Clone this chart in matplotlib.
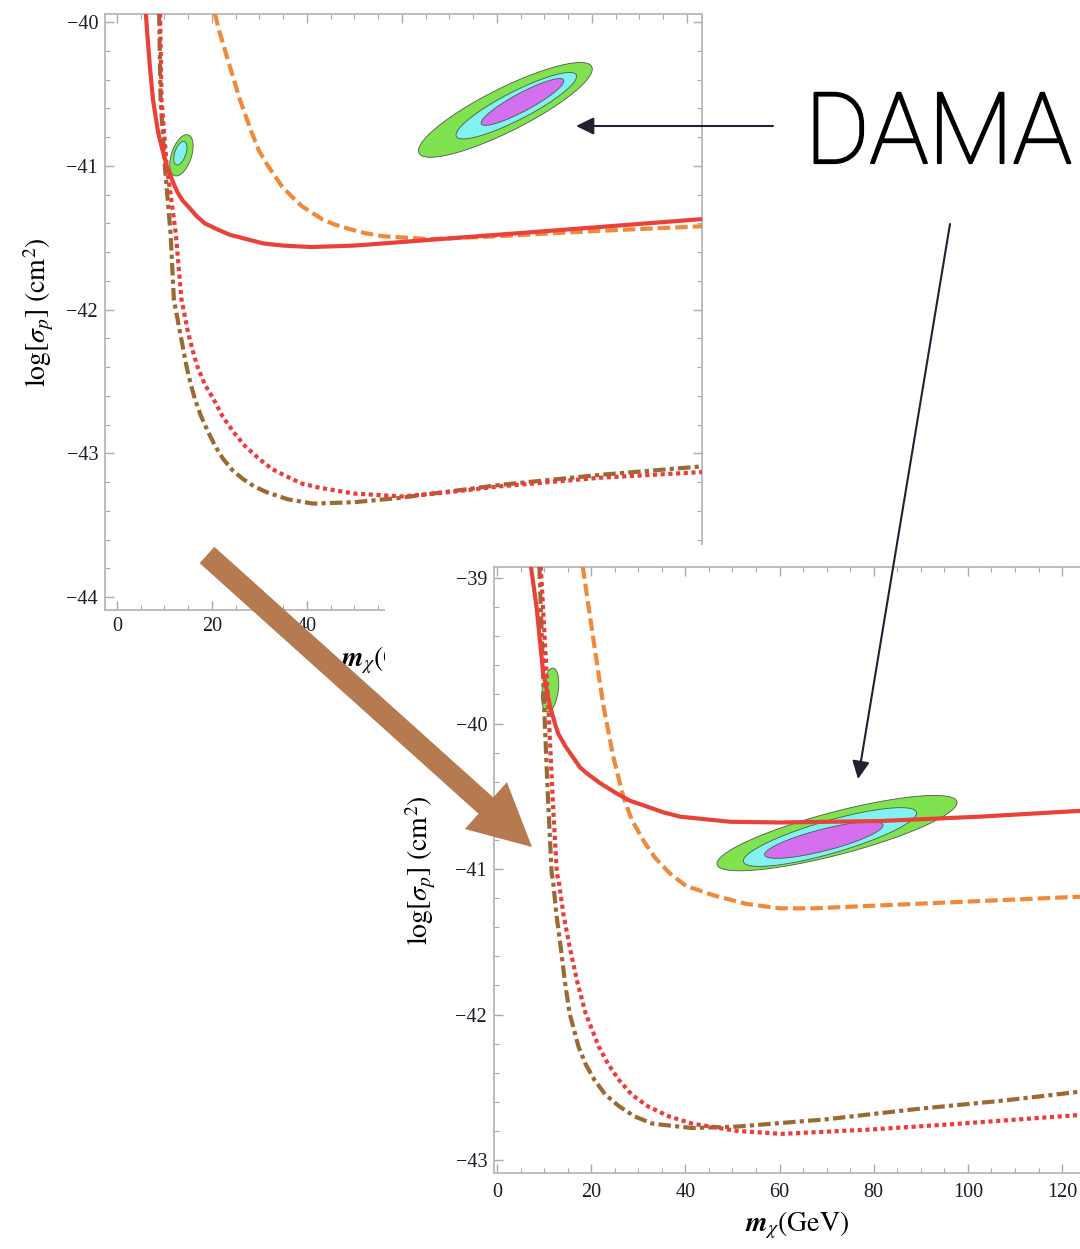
import numpy as np
import matplotlib
matplotlib.use('Agg')
import matplotlib.pyplot as plt
from matplotlib.ticker import MultipleLocator
from matplotlib.patches import Rectangle, FancyArrow, FancyArrowPatch
import matplotlib.patheffects as pe

plt.rcParams['font.family'] = ['Liberation Serif', 'DejaVu Serif']
plt.rcParams['mathtext.fontset'] = 'stix'

# ---------------- data: upper-left panel (A) ----------------
a_red_x = [6.1, 6.4, 6.95, 7.6, 8.7, 9.6, 10.5, 11.2, 11.9, 12.7, 13.8, 15.2, 16.8, 18.5, 21, 23.8,
           27.3, 30.8, 35, 41, 50, 60, 80, 100, 123.5]
a_red_y = [-39.94, -40.08, -40.31, -40.54, -40.77, -40.89, -41.0, -41.06, -41.12, -41.18, -41.24, -41.29,
           -41.35, -41.40, -41.44, -41.48, -41.51, -41.54, -41.555, -41.565, -41.555, -41.53, -41.48,
           -41.43, -41.37]

a_orange_x = [20.6, 21.7, 23.8, 25.9, 28.4, 30, 31.8, 34.7, 36.7, 38.9, 43.4, 46, 49, 52.5, 56, 66, 80,
              100, 123.5]
a_orange_y = [-39.94, -40.08, -40.31, -40.54, -40.77, -40.90, -41.0, -41.14, -41.21, -41.28, -41.375,
              -41.41, -41.44, -41.47, -41.49, -41.51, -41.49, -41.455, -41.42]

a_dot_x = [9.1, 9.4, 10.5, 12.4, 13.6, 15, 16, 17, 18.5, 20.3, 22.2, 24.5, 27, 30, 32.7, 35.7, 38.9,
           42.7, 50, 60, 70, 80.6, 101.7, 123.5]
a_dot_y = [-39.94, -40.54, -41.0, -41.47, -41.93, -42.16, -42.29, -42.40, -42.52, -42.62, -42.74,
           -42.85, -42.95, -43.04, -43.11, -43.16, -43.21, -43.24, -43.28, -43.30, -43.27, -43.23,
           -43.17, -43.13]

a_dd_x = [8.9, 9.2, 10.1, 11.3, 12.0, 13.3, 14.0, 14.7, 15.5, 16.4, 17.7, 19.2, 20.7, 22.4, 24.4, 26.6,
          28.9, 31.5, 36, 41.3, 50, 59.6, 80.6, 101.7, 123.5]
a_dd_y = [-39.94, -40.54, -41.0, -41.47, -41.93, -42.16, -42.28, -42.40, -42.51, -42.62, -42.74,
          -42.85, -42.95, -43.04, -43.12, -43.18, -43.23, -43.27, -43.32, -43.35, -43.34, -43.31,
          -43.22, -43.15, -43.09]

# DAMA regions (A): centre, semi-axis vector 1, semi-axis vector 2 (data units)
a_green_c, a_green_u, a_green_v = [81.8, -40.611], [18.19, 0.3007], [2.0, -0.135]
a_cyan_c, a_cyan_u, a_cyan_v = [84.1, -40.582], [12.63, 0.2142], [1.3, -0.087]
a_mag_c, a_mag_u, a_mag_v = [85.4, -40.556], [8.66, 0.1528], [0.88, -0.056]
a_sgreen_c, a_sgreen_u, a_sgreen_v = [13.6, -40.927], [1.43, 0.142], [2.0, -0.0219]
a_scyan_c, a_scyan_u, a_scyan_v = [13.37, -40.912], [0.84, 0.081], [1.1, -0.0125]

# ---------------- data: lower-right panel (B) ----------------
b_red_x = [7.2, 8.4, 9.8, 11.25, 12.3, 13.0, 14.6, 16.1, 17.6, 19, 21.9, 25.4, 28.2, 31.8, 35.3, 38.9,
           49.5, 60.1, 81.3, 102.5, 123.8]
b_red_y = [-38.92, -39.20, -39.65, -39.88, -40.0, -40.07, -40.16, -40.23, -40.30, -40.34, -40.41,
           -40.48, -40.53, -40.57, -40.61, -40.64, -40.675, -40.68, -40.67, -40.64, -40.60]

b_orange_x = [18.2, 20.5, 22.6, 24.7, 26.8, 28.6, 31, 33.5, 36.7, 40.3, 42.4, 45.9, 53, 60.1, 67.2,
              81.3, 102.5, 123.8]
b_orange_y = [-38.92, -39.43, -39.88, -40.23, -40.50, -40.66, -40.80, -40.92, -41.03, -41.12, -41.14,
              -41.18, -41.24, -41.27, -41.27, -41.25, -41.22, -41.19]

b_dot_x = [9.3, 10.9, 11.8, 12.7, 13.1, 14.1, 15.4, 17.0, 18.8, 21.6, 23.6, 25.9, 28.6, 32, 36.5,
           41.5, 51, 60.5, 79.4, 98.3, 123.8]
b_dot_y = [-38.92, -39.88, -40.5, -41.03, -41.08, -41.31, -41.53, -41.77, -41.99, -42.22, -42.34,
           -42.45, -42.55, -42.63, -42.70, -42.75, -42.80, -42.82, -42.79, -42.75, -42.69]

b_dd_x = [9.0, 10.0, 10.8, 11.6, 11.9, 12.6, 13.5, 14.4, 15.4, 17.3, 18.8, 20.7, 23.0, 25.9, 29.2, 33,
          41.5, 51, 69.9, 88.9, 107.9, 123.8]
b_dd_y = [-38.92, -39.88, -40.5, -41.03, -41.08, -41.31, -41.53, -41.77, -41.99, -42.22, -42.34,
          -42.45, -42.55, -42.63, -42.70, -42.75, -42.78, -42.77, -42.72, -42.65, -42.59, -42.53]

b_green_c, b_green_u, b_green_v = [72.2, -40.753], [25.46, 0.2165], [1.15, -0.142]
b_cyan_c, b_cyan_u, b_cyan_v = [70.7, -40.78], [18.37, 0.1705], [0.95, -0.108]
b_mag_c, b_mag_u, b_mag_v = [69.4, -40.80], [12.55, 0.1038], [0.57, -0.072]
b_sgreen_c, b_sgreen_u, b_sgreen_v = [11.3, -39.77], [0.64, 0.151], [1.7, -0.0076]

x_ticks = [0, 20, 40, 60, 80, 100, 120]

# ---------------- styles ----------------
C_RED = '#e8423a'
C_ORANGE = '#f08a3a'
C_DOT = '#ee3b3b'
C_BROWN = '#9a6a32'
C_GREEN = '#80e24e'
C_CYAN = '#82f2f0'
C_MAG = '#d46ff0'
FRAME = '#b8b8b8'
LW = 3.0

W, H = 1080, 1249
fig = plt.figure(figsize=(W / 100, H / 100), dpi=100)


def frac(x0, y0, x1, y1):
    return [x0 / W, 1 - y1 / H, (x1 - x0) / W, (y1 - y0) / H]


def ellipse(ax, c, u, v, color, z):
    t = np.linspace(0, 2 * np.pi, 200)
    xs = c[0] + u[0] * np.cos(t) + v[0] * np.sin(t)
    ys = c[1] + u[1] * np.cos(t) + v[1] * np.sin(t)
    ax.fill(xs, ys, facecolor=color, edgecolor='#4a5a4a', lw=0.6, zorder=z)


def style(ax):
    for s in ax.spines.values():
        s.set_color(FRAME)
        s.set_linewidth(1.3)
    ax.set_xticks(x_ticks)
    ax.xaxis.set_minor_locator(MultipleLocator(5))
    ax.yaxis.set_major_locator(MultipleLocator(1))
    ax.yaxis.set_minor_locator(MultipleLocator(0.2))
    ax.tick_params(which='both', direction='in', top=True, right=True, color='#aaaaaa',
                   labelsize=14.5, labelcolor='#1c1c2a', pad=5)
    ax.tick_params(which='major', length=6.5, width=1.0)
    ax.tick_params(which='minor', length=3.5, width=0.8)


def curves(ax, red, orange, dot, dd):
    ax.plot(*dd, color=C_BROWN, lw=LW, dashes=(3.0, 1.0, 1.0, 1.0), zorder=3)
    ax.plot(*dot, color=C_DOT, lw=LW, dashes=(1.0, 0.85), zorder=3)
    ax.plot(*orange, color=C_ORANGE, lw=LW, dashes=(3.0, 1.2), zorder=3)
    ax.plot(*red, color=C_RED, lw=LW, zorder=4, solid_joinstyle='round')


YLAB = r'$\mathrm{log}[\sigma_p]\ (\mathrm{cm}^2)$'
XLAB = r'$\mathbfit{m}_{\chi}(\mathrm{GeV})$'

# ---------- panel A ----------
axA = fig.add_axes(frac(105, 14, 702, 610), zorder=1)
style(axA)
ellipse(axA, a_green_c, a_green_u, a_green_v, C_GREEN, 1)
ellipse(axA, a_cyan_c, a_cyan_u, a_cyan_v, C_CYAN, 1.1)
ellipse(axA, a_mag_c, a_mag_u, a_mag_v, C_MAG, 1.2)
ellipse(axA, a_sgreen_c, a_sgreen_u, a_sgreen_v, C_GREEN, 1)
ellipse(axA, a_scyan_c, a_scyan_u, a_scyan_v, C_CYAN, 1.1)
curves(axA, (a_red_x, a_red_y), (a_orange_x, a_orange_y), (a_dot_x, a_dot_y), (a_dd_x, a_dd_y))
axA.set_xlim(-2.5, 123.2)
axA.set_ylim(-44.09, -39.944)
axA.set_ylabel(YLAB, fontsize=20)
axA.yaxis.label.set_va('center')
axA.yaxis.set_label_coords(-0.11, 0.5)
axA.set_xlabel(XLAB, fontsize=20)
axA.xaxis.label.set_va('center')
axA.xaxis.set_label_coords(0.483, -0.085)

# white backdrop of the lower-right picture
fig.add_artist(Rectangle((385 / W, 0), 1 - 385 / W, 1 - 545 / H, transform=fig.transFigure,
                         facecolor='white', edgecolor='none', zorder=2))

# ---------- panel B ----------
axB = fig.add_axes(frac(494, 567, 1080, 1173), zorder=3)
style(axB)
axB.spines['right'].set_visible(False)
axB.tick_params(which='both', right=False)
ellipse(axB, b_green_c, b_green_u, b_green_v, C_GREEN, 1)
ellipse(axB, b_cyan_c, b_cyan_u, b_cyan_v, C_CYAN, 1.1)
ellipse(axB, b_mag_c, b_mag_u, b_mag_v, C_MAG, 1.2)
ellipse(axB, b_sgreen_c, b_sgreen_u, b_sgreen_v, C_GREEN, 1)
curves(axB, (b_red_x, b_red_y), (b_orange_x, b_orange_y), (b_dot_x, b_dot_y), (b_dd_x, b_dd_y))
axB.set_xlim(-0.64, 123.8)
axB.set_ylim(-43.089, -38.924)
axB.tick_params(axis='x', pad=7)
axB.set_ylabel(YLAB, fontsize=20)
axB.yaxis.label.set_va('center')
axB.yaxis.set_label_coords((421 - 494) / 586, 0.5)
axB.set_xlabel(XLAB, fontsize=20)
axB.xaxis.label.set_va('center')
axB.xaxis.set_label_coords((797 - 494) / 586, -(1225 - 1173) / 606)

# ---------- annotations ----------
inch = lambda px, py: (px / 100, (H - py) / 100)
x0, y0 = inch(207, 555)
x1, y1 = inch(532, 847)
fig.add_artist(FancyArrow(x0, y0, x1 - x0, y1 - y0, width=0.22, head_width=0.63, head_length=0.62,
                          length_includes_head=True, transform=fig.dpi_scale_trans,
                          facecolor='#b67a51', edgecolor='none', zorder=5))

for (pa, pb) in [((773, 126), (576, 126)), ((950, 224), (858, 779))]:
    fig.add_artist(FancyArrowPatch((pa[0] / W, 1 - pa[1] / H), (pb[0] / W, 1 - pb[1] / H),
                                   transform=fig.transFigure, arrowstyle='-|>,head_length=0.43,head_width=0.21',
                                   mutation_scale=25, lw=1.5, color='#1f2230', shrinkA=0, shrinkB=0, zorder=6))

fig.text(805 / W, 1 - 163 / H, 'DAMA', fontsize=71, family=['Roboto', 'DejaVu Sans'], weight='light',
         color='black', ha='left', va='baseline', zorder=6,
         path_effects=[pe.withStroke(linewidth=1.6, foreground='black')])

fig.savefig('out.png', dpi=100)
